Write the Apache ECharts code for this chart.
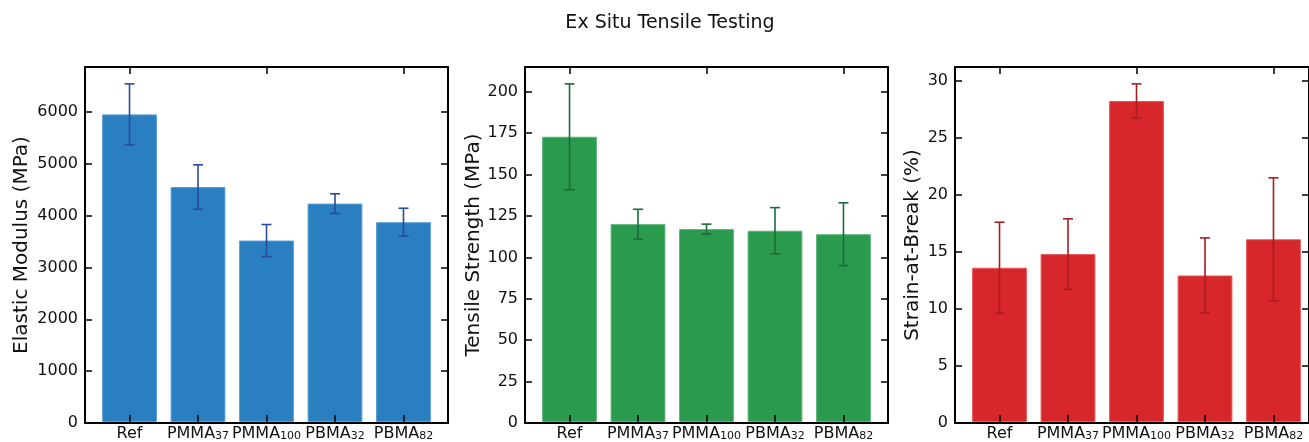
<!DOCTYPE html>
<html><head><meta charset="utf-8">
<script src="https://cdn.jsdelivr.net/npm/echarts@6/dist/echarts.min.js"></script>
<style>html,body{margin:0;padding:0;background:#fff}#c{width:1309px;height:442px}</style>
</head><body><div id="c"></div>
<script>
const chartTitle = 'Ex Situ Tensile Testing';
const catBase = ['Ref','PMMA','PMMA','PBMA','PBMA'];
const catSub = ['','37','100','32','82'];
const modulus = [5950,4545,3510,4225,3865];
const modulusErr = [590,430,310,190,270];
const strength = [172.7,119.8,116.8,115.8,113.7];
const strengthErr = [32,9,3,14,19];
const strain = [13.55,14.75,28.2,12.87,16.05];
const strainErr = [4.0,3.1,1.5,3.3,5.4];
const modulusTicks = [0,1000,2000,3000,4000,5000,6000];
const strengthTicks = [0,25,50,75,100,125,150,175,200];
const strainTicks = [0,5,10,15,20,25,30];
const yTitles = ['Elastic Modulus (MPa)','Tensile Strength (MPa)','Strain-at-Break (%)'];

const FONT = 'DejaVu Sans';
const panels = [
  {vals: modulus, errs: modulusErr, ticks: modulusTicks, left: 85, color: '#2a7fc1', edge: '#5a9dd3', ecolor: '#2b4a9c', nameGap: 53},
  {vals: strength, errs: strengthErr, ticks: strengthTicks, left: 525, color: '#2a9a4e', edge: '#5cb479', ecolor: '#1c6b38', nameGap: 41},
  {vals: strain, errs: strainErr, ticks: strainTicks, left: 955, color: '#d8272a', edge: '#e6595b', ecolor: '#a51e22', nameGap: 32}
];
const FW = 363, TOP = 67, H = 356;
const unit = FW / 5.3;

const grid = [], xAxis = [], yAxis = [], series = [];
panels.forEach((p, i) => {
  const M = 1.05 * Math.max(...p.vals.map((v, k) => v + p.errs[k]));
  const gF = grid.length;
  grid.push({left: p.left, top: TOP, width: FW, height: H});
  const gB = grid.length;
  grid.push({left: p.left + 0.15 * unit, top: TOP, width: 5 * unit, height: H});
  const lineStyle = {color: '#000', width: 2};
  const tickStyle = {color: '#000', width: 1.5};
  ['bottom', 'top'].forEach(pos => xAxis.push({gridIndex: gF, type: 'value', min: 0, max: 1, position: pos, z: 10,
    axisLine: {show: true, onZero: false, lineStyle}, axisTick: {show: false}, axisLabel: {show: false}, splitLine: {show: false}}));
  const xb = xAxis.length;
  xAxis.push({gridIndex: gB, type: 'category', data: catBase.map((c, k) => c + catSub[k]), position: 'bottom', z: 10,
    axisLine: {show: false, onZero: false},
    axisTick: {show: true, inside: true, alignWithLabel: true, length: 7, lineStyle: tickStyle},
    axisLabel: {interval: 0, margin: 4, color: '#111', fontFamily: FONT,
      formatter: (v, idx) => catSub[idx] ? `{a|${catBase[idx]}}{s|${catSub[idx]}}` : `{a|${catBase[idx]}}`,
      rich: {
        a: {fontSize: 16, fontFamily: FONT, color: '#111', lineHeight: 16, verticalAlign: 'top'},
        s: {fontSize: 11, fontFamily: FONT, color: '#111', lineHeight: 8, verticalAlign: 'bottom', padding: [12, 0, 0, 0]}
      }},
    splitLine: {show: false}});
  xAxis.push({gridIndex: gB, type: 'category', data: catBase.map((c, k) => c + catSub[k]), position: 'top', z: 10,
    axisLine: {show: false, onZero: false},
    axisTick: {show: true, inside: true, alignWithLabel: true, length: 7, lineStyle: tickStyle},
    axisLabel: {show: false}, splitLine: {show: false}});
  yAxis.push({gridIndex: gF, type: 'value', min: 0, max: M, position: 'left', z: 10,
    name: yTitles[i], nameLocation: 'middle', nameGap: p.nameGap,
    nameTextStyle: {fontSize: 20, fontFamily: FONT, color: '#111'},
    axisLine: {show: true, onZero: false, lineStyle},
    axisTick: {show: true, inside: true, length: 7, customValues: p.ticks, lineStyle: tickStyle},
    axisLabel: {customValues: p.ticks, formatter: v => String(v), fontSize: 16, fontFamily: FONT, color: '#111', margin: 7},
    splitLine: {show: false}});
  yAxis.push({gridIndex: gF, type: 'value', min: 0, max: M, position: 'right', z: 10,
    axisLine: {show: true, onZero: false, lineStyle},
    axisTick: {show: true, inside: true, length: 7, customValues: p.ticks, lineStyle: tickStyle},
    axisLabel: {show: false}, splitLine: {show: false}});
  const yb = yAxis.length;
  yAxis.push({gridIndex: gB, type: 'value', min: 0, max: M, show: false, splitLine: {show: false}});

  series.push({type: 'bar', xAxisIndex: xb, yAxisIndex: yb, data: p.vals, barWidth: '80%',
    itemStyle: {color: p.color, borderColor: p.edge, borderWidth: 1}, silent: true, animation: false});
  series.push({type: 'custom', xAxisIndex: xb, yAxisIndex: yb, z: 5, animation: false, silent: true,
    data: p.vals.map((v, k) => [k, v - p.errs[k], v + p.errs[k]]),
    encode: {x: 0, y: [1, 2]},
    renderItem: (params, api) => {
      const lo = api.coord([api.value(0), api.value(1)]);
      const hi = api.coord([api.value(0), api.value(2)]);
      const w = 5;
      const st = {stroke: p.ecolor, lineWidth: 1.6};
      return {type: 'group', children: [
        {type: 'line', shape: {x1: lo[0], y1: lo[1], x2: hi[0], y2: hi[1]}, style: st},
        {type: 'line', shape: {x1: lo[0] - w, y1: lo[1], x2: lo[0] + w, y2: lo[1]}, style: st},
        {type: 'line', shape: {x1: hi[0] - w, y1: hi[1], x2: hi[0] + w, y2: hi[1]}, style: st}
      ]};
    }});
});

const chart = echarts.init(document.getElementById('c'));
chart.setOption({
  animation: false,
  title: {text: chartTitle, left: 665, top: 9, textAlign: 'center',
    textStyle: {fontSize: 19, fontWeight: 'normal', fontFamily: FONT, color: '#111'}},
  grid, xAxis, yAxis, series
});
</script>
</body></html>
